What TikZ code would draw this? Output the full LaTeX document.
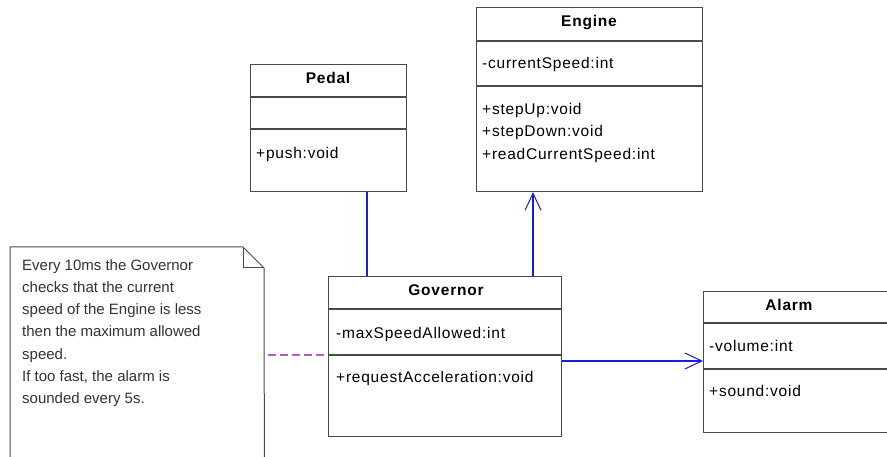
\documentclass[tikz,border=0pt]{standalone}
\usepackage{fontspec}
\setmainfont{Liberation Sans}
\newfontfamily\classfont{Liberation Sans}[LetterSpace=5]
\usetikzlibrary{arrows.meta}
\definecolor{boxgray}{HTML}{4A4A4A}
\definecolor{linkblue}{HTML}{1A1AE6}
\definecolor{notepurple}{HTML}{B35CC8}
\definecolor{notetext}{HTML}{333333}
\tikzset{
  umlbox/.style={draw=boxgray, line width=1.1pt, fill=white, inner sep=0pt, anchor=north west},
  divider/.style={draw=boxgray, line width=1.1pt},
  member/.style={anchor=mid west, inner sep=0pt, font=\classfont\fontsize{15.5}{18}\selectfont},
  classtitle/.style={anchor=mid, inner sep=0pt, font=\classfont\bfseries\fontsize{15.5}{18}\selectfont},
  assoc/.style={color=linkblue, line width=1.2pt},
  navarrow/.style={assoc, -{Straight Barb[length=17pt, width=16pt, line width=1pt]}},
  anchorline/.style={color=notepurple, line width=1.2pt, dash pattern=on 8pt off 4pt},
  notetxt/.style={anchor=north west, inner sep=0pt, align=left, text=notetext,
    font=\fontsize{15}{22.3}\selectfont}
}
\begin{document}
\begin{tikzpicture}[x=1pt, y=-1pt]
  \useasboundingbox (0,0) rectangle (887,457);
  \fill[white] (0,0) rectangle (887,457);

  % Pedal
  \node[umlbox, minimum width=156pt, minimum height=127pt] (pedal) at (250,64) {};
  \draw[divider] (pedal.north west) ++(0,33) -- ++(156,0);
  \draw[divider] (pedal.north west) ++(0,65) -- ++(156,0);
  \node[classtitle] (pedalname) at (328,81) {Pedal};
  \node[member] (pedalop) at (256,156) {+push:void};

  % Engine
  \node[umlbox, minimum width=226pt, minimum height=184pt] (engine) at (476,7) {};
  \draw[divider] (engine.north west) ++(0,34) -- ++(226,0);
  \draw[divider] (engine.north west) ++(0,79) -- ++(226,0);
  \node[classtitle] (enginename) at (589,24) {Engine};
  \node[member] (engineattr) at (482,66) {-currentSpeed:int};
  \node[member] (engineop1) at (482,112) {+stepUp:void};
  \node[member] (engineop2) at (482,134) {+stepDown:void};
  \node[member] (engineop3) at (482,157) {+readCurrentSpeed:int};

  % Governor
  \node[umlbox, minimum width=233pt, minimum height=160pt] (gov) at (328,276) {};
  \draw[divider] (gov.north west) ++(0,33) -- ++(233,0);
  \draw[divider] (gov.north west) ++(0,79) -- ++(233,0);
  \node[classtitle] (govname) at (446,293) {Governor};
  \node[member] (govattr) at (336,336) {-maxSpeedAllowed:int};
  \node[member] (govop) at (336,380) {+requestAcceleration:void};

  % Alarm
  \node[umlbox, minimum width=200pt, minimum height=141pt] (alarm) at (703,291) {};
  \draw[divider] (alarm.north west) ++(0,32) -- ++(200,0);
  \draw[divider] (alarm.north west) ++(0,78) -- ++(200,0);
  \node[classtitle] (alarmname) at (789,308) {Alarm};
  \node[member] (alarmattr) at (709,349) {-volume:int};
  \node[member] (alarmop) at (709,394) {+sound:void};

  % Note with folded corner
  \node[minimum width=254pt, minimum height=223pt, inner sep=0pt, anchor=north west] (note) at (10,247) {};
  \draw[boxgray, line width=1pt]
    (note.south west) -- (note.north west) -- ++(233,0) -- ++(21,21) -- (note.south east);
  \draw[boxgray, line width=1pt]
    (note.north west) ++(233,0) -- ++(0,21) -- ++(21,0);
  \node[notetxt] (notebody) at (22,259) {Every 10ms the Governor\\checks that the current\\speed of the Engine is less\\then the maximum allowed\\speed.\\If too fast, the alarm is\\sounded every 5s.};

  % Connectors
  \coordinate (pedalx) at (367,0);
  \coordinate (enginex) at (533,0);
  \coordinate (alarmy) at (0,361);
  \coordinate (notey) at (0,355);
  \draw[assoc] (pedal.south -| pedalx) -- (gov.north -| pedalx);
  \draw[navarrow] (gov.north -| enginex) -- (engine.south -| enginex);
  \draw[navarrow] (gov.east |- alarmy) -- (alarm.west |- alarmy);
  \draw[anchorline, shorten <=4pt] (note.east |- notey) -- (gov.west |- notey);
\end{tikzpicture}
\end{document}
